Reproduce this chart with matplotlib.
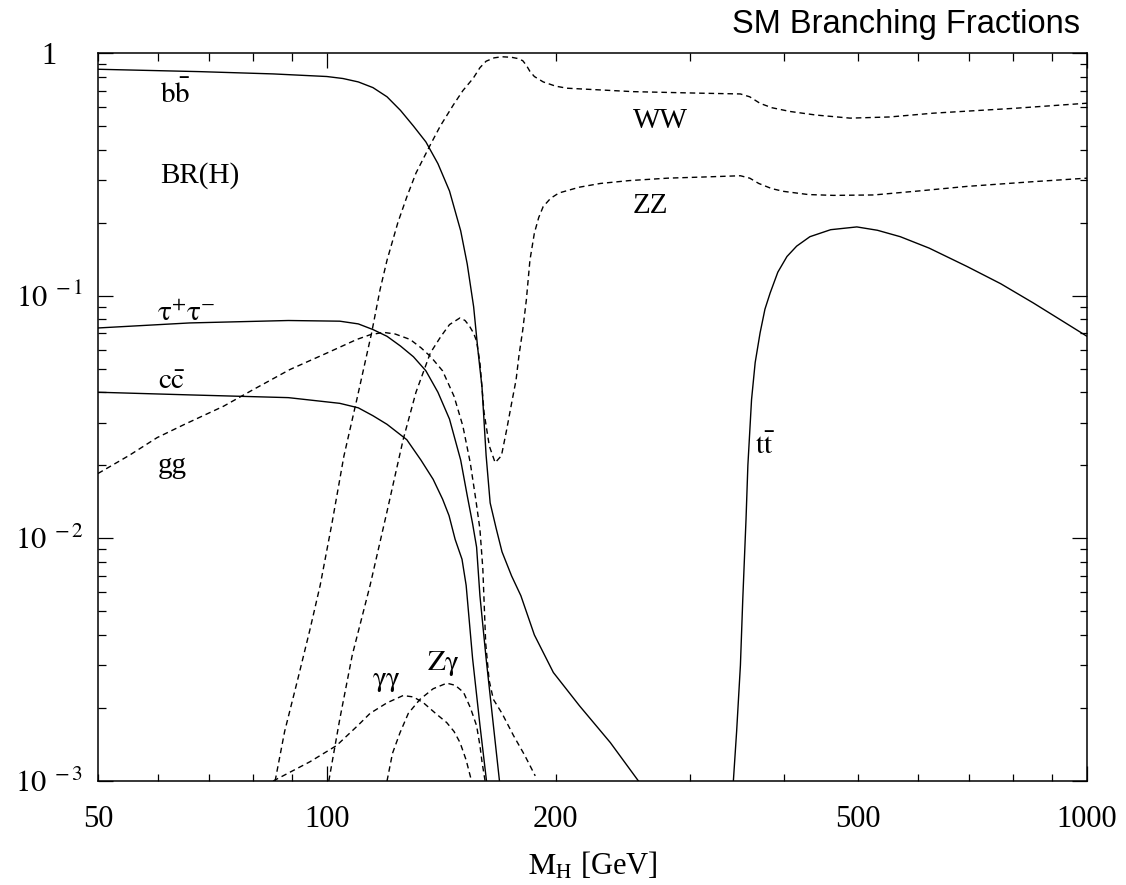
import matplotlib
matplotlib.use("Agg")
import matplotlib.pyplot as plt
from matplotlib.ticker import LogLocator, NullFormatter, FixedLocator

plt.rcParams['font.family'] = ['Liberation Serif', 'DejaVu Serif']
plt.rcParams['mathtext.fontset'] = 'stix'

# ---- data (M_H in GeV, branching ratio) ----
bb_m  = [50, 68, 85, 100, 105, 110, 115, 120, 125, 130, 135, 140, 145, 150, 153, 156, 158, 160,
         162, 164, 167, 170, 175, 180, 187.5, 198.6, 215, 236, 257]
bb_br = [0.857, 0.838, 0.82, 0.80, 0.785, 0.76, 0.72, 0.66, 0.58, 0.50, 0.43, 0.35, 0.27, 0.185, 0.135,
         0.09, 0.06, 0.042, 0.022, 0.014, 0.011, 0.0088, 0.007, 0.0058, 0.004, 0.0028, 0.00204, 0.00144, 0.001]

tau_m  = [50, 66, 89, 104, 110, 115, 120, 125, 130, 135, 140, 145, 150, 153, 155.5, 157.4, 159, 162,
          165.6, 168.7]
tau_br = [0.0736, 0.0772, 0.079, 0.0785, 0.0765, 0.0725, 0.068, 0.062, 0.056, 0.049, 0.040, 0.031, 0.021,
          0.015, 0.0115, 0.0092, 0.0058, 0.0032, 0.0017, 0.001]

cc_m  = [50, 66, 89, 104, 110, 115, 120, 127.4, 133, 138, 142, 144.8, 147.5, 150.6, 152.5, 155.5, 159, 162.2]
cc_br = [0.04, 0.039, 0.038, 0.036, 0.0345, 0.032, 0.0295, 0.0255, 0.021, 0.0175, 0.0145, 0.0124, 0.0099,
         0.0082, 0.0064, 0.0032, 0.0017, 0.001]

gg_m  = [50, 55, 59.8, 65, 73.1, 80, 89.4, 100, 109.5, 114, 118.7, 123, 128.7, 133, 137, 142, 147, 151,
         154.4, 157, 159, 160.4, 161.8, 163.5, 165.6, 170, 176, 182, 188]
gg_br = [0.0185, 0.022, 0.026, 0.0295, 0.035, 0.041, 0.0496, 0.058, 0.066, 0.069, 0.0706, 0.0695, 0.066,
         0.061, 0.056, 0.049, 0.0385, 0.029, 0.0205, 0.0145, 0.0109, 0.0075, 0.0037, 0.0026, 0.00217, 0.0019,
         0.00154, 0.00128, 0.00105]

ww_m  = [85.5, 88, 91.5, 95, 98, 101.6, 105.3, 109.5, 114.5, 117.5, 120, 124, 127.4, 131, 136.8, 141,
         146.7, 151, 155.8, 159, 162, 166, 170, 175, 178, 181, 183, 185, 187.5, 192.6, 200, 207, 253, 310,
         350, 360, 371.5, 385, 407, 440, 488, 550, 628, 805, 1000]
ww_br = [0.001, 0.0016, 0.0026, 0.0042, 0.0064, 0.0116, 0.0218, 0.0373, 0.07, 0.106, 0.14, 0.2, 0.255,
         0.32, 0.418, 0.5, 0.611, 0.70, 0.787, 0.87, 0.925, 0.955, 0.965, 0.96, 0.95, 0.93, 0.89, 0.84, 0.80,
         0.76, 0.73, 0.716, 0.693, 0.683, 0.678, 0.66, 0.62, 0.595, 0.574, 0.555, 0.539, 0.545, 0.565,
         0.592, 0.621]

zz_m  = [100.6, 104, 108, 114, 120, 126, 131, 136.8, 141.3, 145, 149.7, 152, 154, 156, 157.4, 159, 161,
         163.6, 166.5, 169.7, 172.4, 175, 177.4, 179, 181, 183, 185, 187.5, 190, 192.6, 197, 202, 215, 229,
         250, 281, 310, 350, 360, 370, 385, 399, 430, 464, 524, 600, 695, 850, 1000]
zz_br = [0.001, 0.0018, 0.0033, 0.0064, 0.0129, 0.0255, 0.04, 0.058, 0.068, 0.076, 0.081, 0.079, 0.075,
         0.07, 0.065, 0.053, 0.033, 0.024, 0.0205, 0.0219, 0.028, 0.036, 0.045, 0.057, 0.072, 0.096, 0.14,
         0.181, 0.21, 0.233, 0.252, 0.265, 0.28, 0.29, 0.298, 0.305, 0.308, 0.312, 0.305, 0.29, 0.276, 0.269,
         0.261, 0.259, 0.26, 0.27, 0.282, 0.295, 0.305]

gaga_m  = [85, 95, 103, 110, 114, 120, 126, 130, 134, 139, 143.8, 147, 149.7, 152.5, 155]
gaga_br = [0.001, 0.0012, 0.0014, 0.0017, 0.0019, 0.0021, 0.00225, 0.00222, 0.0021, 0.0019, 0.00174,
           0.0016, 0.00144, 0.00122, 0.001]

zga_m  = [120, 122, 124.8, 128, 132.6, 138, 143.8, 147.5, 151.3, 154.5, 157.4, 159, 160, 161.5]
zga_br = [0.001, 0.0013, 0.00158, 0.0019, 0.00217, 0.0024, 0.00253, 0.00248, 0.00232, 0.002, 0.00169,
          0.0014, 0.0012, 0.001]

tt_m  = [342.6, 346, 350, 352.5, 356, 358, 362, 366, 371.5, 377, 383, 392, 403, 415, 432, 460, 498, 530,
         568, 620, 695, 770, 850, 920, 1000]
tt_br = [0.001, 0.0016, 0.003, 0.0056, 0.012, 0.02, 0.0373, 0.053, 0.0703, 0.088, 0.1026, 0.125, 0.145,
         0.16, 0.175, 0.187, 0.192, 0.186, 0.175, 0.157, 0.132, 0.112, 0.0933, 0.08, 0.068]

solid_series = [(bb_m, bb_br), (tau_m, tau_br), (cc_m, cc_br), (tt_m, tt_br)]
dashed_series = [(gg_m, gg_br), (ww_m, ww_br), (zz_m, zz_br), (gaga_m, gaga_br), (zga_m, zga_br)]

# curve labels: (text, M position, BR baseline position)
labels = [
    (r"$\mathrm{b\bar{b}}$", 60.4, 0.623),
    ("BR(H)", 60.4, 0.292),
    (r"$\mathrm{\tau^{+}\tau^{-}}$", 59.8, 0.0783),
    (r"$\mathrm{c\bar{c}}$", 60.0, 0.0411),
    ("gg", 60.0, 0.0186),
    ("WW", 252.5, 0.491),
    ("ZZ", 252.5, 0.2196),
    (r"$\mathrm{t\bar{t}}$", 366, 0.0222),
    (r"$\mathrm{\gamma\gamma}$", 114.5, 0.00246),
    (r"$\mathrm{Z\gamma}$", 135.5, 0.00286),
]

x_major = [100, 1000]
x_major_labels = ["100", "1000"]
x_minor = [50, 60, 70, 80, 90, 200, 300, 400, 500, 600, 700, 800, 900]
x_minor_labels = ["50", "", "", "", "", "200", "", "", "500", "", "", "", ""]
y_major = [1e-3, 1e-2, 1e-1, 1]
y_major_labels = [r"$10^{\ -3}$", r"$10^{\ -2}$", r"$10^{\ -1}$", "1"]

W, H = 1126, 885
fig = plt.figure(figsize=(W / 100, H / 100), dpi=100)
ax = fig.add_axes([98 / W, 1 - 781 / H, (1087 - 98) / W, (781 - 53) / H])
ax.set_xscale('log')
ax.set_yscale('log')

for m, br in solid_series:
    ax.plot(m, br, color='black', lw=1.0, solid_joinstyle='round')
for m, br in dashed_series:
    ax.plot(m, br, color='black', lw=1.0, linestyle=(0, (4.0, 2.8)))

ax.set_xlim(50, 1000)
ax.set_ylim(1e-3, 1)

ax.xaxis.set_major_locator(FixedLocator(x_major))
ax.set_xticklabels(x_major_labels)
ax.xaxis.set_minor_locator(FixedLocator(x_minor))
ax.set_xticklabels(x_minor_labels, minor=True)

ax.yaxis.set_major_locator(FixedLocator(y_major))
ax.set_yticklabels(y_major_labels)
ax.yaxis.set_minor_locator(LogLocator(base=10, subs=[2, 3, 4, 5, 6, 7, 8, 9]))
ax.yaxis.set_minor_formatter(NullFormatter())

ax.tick_params(which='both', direction='in', top=True, right=True, width=0.9, labelsize=22)
ax.tick_params(which='major', length=10.8)
ax.tick_params(which='minor', length=5.4)
ax.tick_params(axis='x', which='both', pad=17)
ax.tick_params(axis='y', which='both', pad=35)
for t in ax.get_yticklabels():
    t.set_horizontalalignment('center')

for sp in ax.spines.values():
    sp.set_linewidth(1.1)

for txt, m, br in labels:
    ax.text(m, br, txt, fontsize=21, ha='left', va='baseline')

ax.set_xlabel(r"$\mathrm{M_H}$ [GeV]", fontsize=22, labelpad=12)

fig.text(1080 / W, 1 - 33 / H, "SM Branching Fractions", family='Liberation Sans',
         fontsize=23.5, ha='right', va='baseline')

fig.savefig("out.png", dpi=100)
